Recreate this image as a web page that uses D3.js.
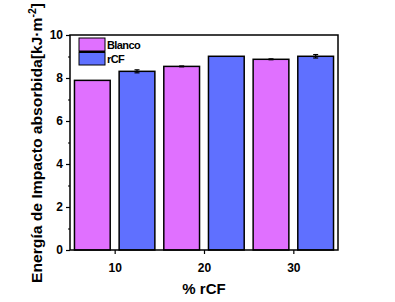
<!DOCTYPE html>
<html><head><meta charset="utf-8">
<script src="https://cdn.jsdelivr.net/npm/d3@7"></script>
<style>body{margin:0;background:#fff}svg{display:block}text{font-family:Arial,"Liberation Sans",sans-serif;font-weight:bold}</style>
</head><body><svg id="c" width="395" height="302"></svg>
<script>
const categories = [10, 20, 30];
const seriesNames = ["Blanco", "rCF"];
const blanco = [7.89, 8.54, 8.87];
const blancoErr = [0, 0.02, 0.02];
const rcf = [8.31, 9.01, 9.01];
const rcfErr = [0.07, 0, 0.08];
const yTicks = [0, 2, 4, 6, 8, 10];
const yMinor = [1, 3, 5, 7, 9];
const colors = ["#E070FF", "#5F70FF"];

const svg = d3.select("#c");
const L = 70, R = 338, T = 35, B = 250;
const x = d3.scaleLinear().domain([5, 35]).range([L, R]);
const y = d3.scaleLinear().domain([0, 10]).range([B, T]);
const barW = 4, off = 2.5;

const series = [
  {name: seriesNames[0], vals: blanco, err: blancoErr, dx: -off, color: colors[0]},
  {name: seriesNames[1], vals: rcf, err: rcfErr, dx: off, color: colors[1]}
];

series.forEach(s => {
  categories.forEach((c, i) => {
    const x0 = x(c + s.dx - barW / 2), x1 = x(c + s.dx + barW / 2);
    svg.append("rect").attr("x", x0).attr("y", y(s.vals[i]))
      .attr("width", x1 - x0).attr("height", y(0) - y(s.vals[i]))
      .attr("fill", s.color).attr("stroke", "#000").attr("stroke-width", 1.5);
    if (s.err[i] > 0) {
      const cx = x(c + s.dx);
      const g = svg.append("g").attr("stroke", "#000").attr("stroke-width", 1.2);
      g.append("line").attr("x1", cx).attr("x2", cx).attr("y1", y(s.vals[i] - s.err[i])).attr("y2", y(s.vals[i] + s.err[i]));
      [s.vals[i] - s.err[i], s.vals[i] + s.err[i]].forEach(v =>
        g.append("line").attr("x1", cx - 2.5).attr("x2", cx + 2.5).attr("y1", y(v)).attr("y2", y(v)));
    } else if (s.err[i] === 0 && i > 0 && s.name === "Blanco") {}
  });
});

// frame
svg.append("rect").attr("x", L).attr("y", T).attr("width", R - L).attr("height", B - T)
  .attr("fill", "none").attr("stroke", "#000").attr("stroke-width", 1.5);

// y axis
const yAxis = d3.axisLeft(y).tickValues(yTicks).tickSize(4).tickPadding(3).tickFormat(d3.format("d"));
const ya = svg.append("g").attr("transform", `translate(${L},0)`).call(yAxis);
ya.select(".domain").remove();
ya.selectAll("text").attr("font-size", 12).attr("font-weight", "bold").attr("fill", "#000");
ya.selectAll("line").attr("stroke-width", 1.2);
const ym = d3.axisLeft(y).tickValues(yMinor).tickSize(2).tickFormat("");
const yma = svg.append("g").attr("transform", `translate(${L},0)`).call(ym);
yma.select(".domain").remove();
yma.selectAll("line").attr("stroke-width", 1.2);

// x axis
const xAxis = d3.axisBottom(x).tickValues(categories).tickSize(4).tickPadding(9).tickFormat(d3.format("d"));
const xa = svg.append("g").attr("transform", `translate(0,${B})`).call(xAxis);
xa.select(".domain").remove();
xa.selectAll("text").attr("font-size", 12).attr("font-weight", "bold").attr("fill", "#000");
xa.selectAll("line").attr("stroke-width", 1.2);

// labels
svg.append("text").attr("x", (L + R) / 2).attr("y", 294).attr("text-anchor", "middle")
  .attr("font-size", 15).text("% rCF");
const yl = svg.append("text").attr("transform", "translate(42,143) rotate(-90)")
  .attr("text-anchor", "middle").attr("font-size", 15)
  .attr("textLength", 280).attr("lengthAdjust", "spacingAndGlyphs");
yl.append("tspan").text("Energía de Impacto absorbida[kJ·m");
yl.append("tspan").attr("dy", -6).attr("font-size", 10).text("-2");
yl.append("tspan").attr("dy", 6).text("]");

// legend
const lg = svg.append("g");
series.forEach((s, i) => {
  const yy = 38 + i * 14;
  lg.append("rect").attr("x", 79).attr("y", yy).attr("width", 26).attr("height", 13)
    .attr("fill", s.color).attr("stroke", "#000").attr("stroke-width", 1);
  lg.append("text").attr("x", 107).attr("y", yy + 10.5).attr("font-size", 11)
    .attr("letter-spacing", -0.6).text(s.name);
});
lg.append("line").attr("x1", 79).attr("x2", 105).attr("y1", 52).attr("y2", 52)
  .attr("stroke", "#000").attr("stroke-width", 2);
</script></body></html>
